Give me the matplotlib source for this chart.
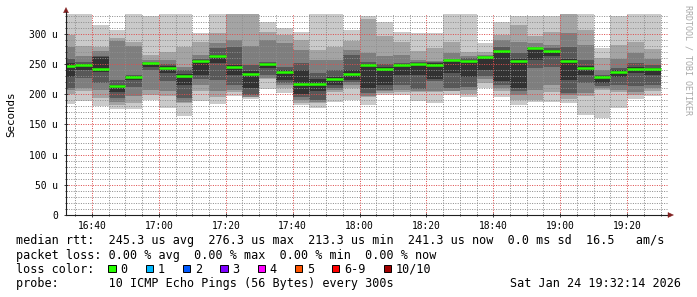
import matplotlib
matplotlib.use("Agg")
import matplotlib.pyplot as plt
import matplotlib.dates as mdates
from matplotlib.ticker import MultipleLocator, FuncFormatter
from matplotlib.patches import Rectangle, Polygon
from matplotlib.lines import Line2D
import numpy as np
import pandas as pd
from datetime import datetime

# ---------------- data (values in microseconds) ----------------
bar_starts = pd.date_range("2026-01-24 16:30", periods=36, freq="5min")

p1 = [184, 189.5, 180, 175, 175, 190, 178, 164, 189, 184, 197, 193, 208, 202, 182, 177, 188, 190,
      182, 199, 198, 189.5, 186, 199, 196, 210, 196, 182, 187, 188, 185, 166, 161, 177, 193, 197]
p2 = [200, 205, 194, 182, 185, 199, 197, 185, 205, 196, 203, 195, 226, 210, 185, 185, 204, 210,
      195, 202, 204, 204, 203, 205, 200, 218, 205, 190, 190.6, 204, 193, 197, 207, 204, 199, 205]
p3 = [207, 210, 207, 188, 197, 207, 205, 188, 215, 205, 207, 196, 227, 215, 190, 187, 207, 215,
      197, 205, 207, 205, 205, 206, 207, 225, 210, 199, 207, 215.5, 199, 202, 211, 207, 204, 210]
p4 = [211, 227, 218, 194, 212.7, 240, 222, 194, 225, 224, 215.5, 199, 232, 218, 195, 190.6, 210.5, 220,
      202, 207, 215, 209, 222, 210, 212, 230, 215, 205, 243, 246, 202, 218, 213, 215.5, 213, 215.5]
p5 = [229, 240, 237, 203, 224, 245, 235, 215, 232, 252, 232, 210, 244, 224, 200, 205, 215.5, 224,
      210, 215, 232, 232, 225, 235, 228, 240, 222, 210, 257, 263, 224, 232, 219, 228, 235, 232]
p6 = [252, 250, 262, 215.5, 230, 252, 247, 234, 256.5, 265, 249, 238, 251, 240, 240, 225, 228, 240,
      250, 245, 250, 252.5, 251, 257.5, 257, 262.5, 274, 258, 276, 273, 258, 247, 231, 240, 245, 243]
p7 = [259, 254, 264, 224, 232, 254, 250, 240, 258, 277, 279, 248, 254, 246, 251, 235, 240, 265,
      253, 250, 252, 254, 253, 258.6, 260, 263, 279, 268, 278, 277, 279, 257, 232, 243, 252, 248]
p8 = [278, 263.5, 272, 287.5, 280, 257, 256, 246, 265, 285, 290, 280, 290, 285, 273, 257, 257, 273.5,
      268, 263, 265, 257, 255, 268, 263, 265, 290, 287, 285, 282, 301, 282, 240, 259, 268, 259]
p9 = [298, 280, 278, 293, 286, 265, 270.5, 279, 286, 301, 340, 340, 304, 298, 290, 273.5, 279, 288,
      325, 296, 287, 271.5, 277, 287, 270.5, 270, 298, 315, 296, 304, 340, 306.6, 260, 281, 287, 275]
p10 = [345, 345, 315, 306, 345, 330, 345, 345, 301, 345, 345, 345, 320, 310, 304, 345, 345, 307,
       330, 319, 304, 301, 301, 345, 345, 284.5, 320, 330, 330, 330, 345, 345, 276, 329, 345, 345]
median = [247.5, 248.5, 242, 213.3, 228, 251, 243.5, 230.5, 255, 263.5, 245.6, 233.5, 249.5, 236.5,
          217.5, 216.5, 224.5, 233, 248, 241.6, 248, 250.5, 249, 256, 255, 261.5, 271, 255, 276.3,
          271.5, 255, 243.5, 229, 237, 241.7, 241.3]

legend_rtt = "median rtt:  245.3 us avg  276.3 us max  213.3 us min  241.3 us now  0.0 ms sd  16.5   am/s"
legend_loss = "packet loss: 0.00 % avg  0.00 % max  0.00 % min  0.00 % now"
loss_labels = ["0", "1", "2", "3", "4", "5", "6-9", "10/10"]
loss_colors = ["#26ff00", "#00b8ff", "#0059ff", "#7e00ff", "#ff00ff", "#ff5500", "#ff0000", "#a10000"]
probe_text = "probe:       10 ICMP Echo Pings (56 Bytes) every 300s"
stamp_text = "Sat Jan 24 19:32:14 2026"

# ---------------- figure ----------------
W, H = 697, 297
fig = plt.figure(figsize=(W / 100, H / 100), dpi=100)
fig.patch.set_facecolor("white")


def fx(px):
    return px / W


def fy(py):
    return 1 - py / H


AX_L, AX_R, AX_T, AX_B = 66, 668, 14, 215
ax = fig.add_axes([fx(AX_L), fy(AX_B), (AX_R - AX_L) / W, (AX_B - AX_T) / H])
ax.set_facecolor("white")

mono = "DejaVu Sans Mono"

x0 = mdates.date2num(bar_starts.to_pydatetime())
width = 5 / 1440.0

pings = np.array([p1, p2, p3, p4, p5, p6, p7, p8, p9, p10], dtype=float)
smoke_colors = ["#cacaca", "#a4a4a4", "#7e7e7e", "#585858", "#323232"]
for k, c in enumerate(smoke_colors):
    lo = pings[k]
    hi = pings[9 - k]
    ax.bar(x0, hi - lo, bottom=lo, width=width, align="edge", color=c,
           linewidth=0, antialiased=False, zorder=1)

ax.hlines(median, x0, x0 + width, colors=loss_colors[0], linewidth=1.8, zorder=4)

ax.set_xlim(mdates.date2num(datetime(2026, 1, 24, 16, 32, 14)),
            mdates.date2num(datetime(2026, 1, 24, 19, 32, 14)))
ax.set_ylim(0, 333)

ax.yaxis.set_major_locator(MultipleLocator(50))
ax.yaxis.set_minor_locator(MultipleLocator(10))
ax.yaxis.set_major_formatter(FuncFormatter(lambda v, p: "0" if v == 0 else f"{int(v)} u"))
ax.xaxis.set_major_locator(mdates.MinuteLocator(byminute=[0, 20, 40]))
ax.xaxis.set_minor_locator(mdates.MinuteLocator(byminute=list(range(0, 60, 5))))
ax.xaxis.set_major_formatter(mdates.DateFormatter("%H:%M"))

ax.set_axisbelow(False)
ax.grid(which="minor", color=(0.56, 0.56, 0.56, 0.55), linestyle=(0, (1, 1.4)), linewidth=0.72)
ax.grid(which="major", color=(0.87, 0.31, 0.31, 0.5), linestyle=(0, (1, 1.4)), linewidth=0.72)

for s in ["top", "right"]:
    ax.spines[s].set_visible(False)
for s in ["left", "bottom"]:
    ax.spines[s].set_color("#1f1f1f")
    ax.spines[s].set_linewidth(0.8)
    ax.spines[s].set_zorder(5)

ax.tick_params(which="both", direction="inout", color="#1f1f1f", width=0.6)
ax.tick_params(which="major", length=3)
ax.tick_params(which="minor", length=2)
ax.tick_params(axis="y", which="major", pad=4.3, labelsize=6.9)
ax.tick_params(axis="x", which="major", pad=3.0, labelsize=6.9)
for lab in ax.get_xticklabels() + ax.get_yticklabels():
    lab.set_fontfamily(mono)

# arrows
arrow_col = "#801f1f"
fig.add_artist(Line2D([fx(66), fx(66)], [fy(14), fy(12)], color="#1f1f1f", linewidth=0.8))
fig.add_artist(Polygon([[fx(63.5), fy(12.7)], [fx(68.5), fy(12.7)], [fx(66), fy(7.5)]],
                       closed=True, facecolor=arrow_col, edgecolor=arrow_col, linewidth=0.3))
fig.add_artist(Polygon([[fx(668), fy(212.5)], [fx(668), fy(217.5)], [fx(673.5), fy(215)]],
                       closed=True, facecolor=arrow_col, edgecolor=arrow_col, linewidth=0.3))

# labels
fig.text(fx(11), fy(114.5), "Seconds", rotation=90, ha="center", va="center",
         fontsize=7.8, family=mono, color="black")
fig.text(fx(688), fy(60), "RRDTOOL / TOBI OETIKER", rotation=270, ha="center", va="center",
         fontsize=6, family=mono, color="#a8a8a8")

LEG_FS = 8.5
CW = 7.07
fig.text(fx(16), fy(240.7), legend_rtt, ha="left", va="center", fontsize=LEG_FS, family=mono)
fig.text(fx(16), fy(255), legend_loss, ha="left", va="center", fontsize=LEG_FS, family=mono)
fig.text(fx(16), fy(269.3), "loss color:", ha="left", va="center", fontsize=LEG_FS, family=mono)
fig.text(fx(16), fy(283.3), probe_text, ha="left", va="center", fontsize=LEG_FS, family=mono)
fig.text(fx(681), fy(283.3), stamp_text, ha="right", va="center", fontsize=LEG_FS, family=mono)

sq_x = 108.3
for lab, col in zip(loss_labels, loss_colors):
    fig.add_artist(Rectangle((fx(sq_x), fy(272.3)), 7.3 / W, 7.3 / H, facecolor=col,
                             edgecolor="black", linewidth=0.7))
    fig.text(fx(sq_x + 12), fy(269.3), lab, ha="left", va="center", fontsize=LEG_FS, family=mono)
    sq_x += 37.3 + CW * (len(lab) - 1)

fig.savefig("out.png", dpi=100, facecolor="white")
